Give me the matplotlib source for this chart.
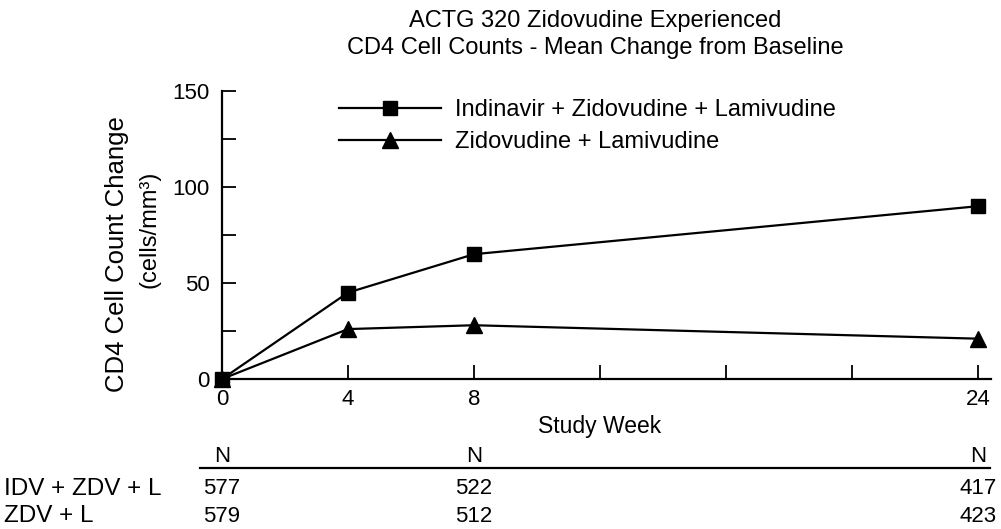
import matplotlib
matplotlib.use("Agg")
import matplotlib.pyplot as plt
from matplotlib.transforms import blended_transform_factory

plt.rcParams['font.family'] = ['Liberation Sans', 'DejaVu Sans']

weeks = ["0", "4", "8", "24"]
week_pos = [0, 1, 2, 6]
tick_pos = [0, 1, 2, 3, 4, 5, 6]
idv_zdv_l = [0, 45, 65, 90]
zdv_l = [0, 26, 28, 21]
series_names = ["Indinavir + Zidovudine + Lamivudine", "Zidovudine + Lamivudine"]
row_labels = ["IDV + ZDV + L", "ZDV + L"]
n_weeks_pos = [0, 2, 6]
n_idv = ["577", "522", "417"]
n_zdv = ["579", "512", "423"]

W, H = 1001, 529
fig = plt.figure(figsize=(W / 100, H / 100), dpi=100)
ax = fig.add_axes([222 / W, 1 - 379 / H, 768.6 / W, 288 / H])

ax.plot(week_pos, idv_zdv_l, color='black', lw=1.6, marker='s', markersize=10,
        label=series_names[0], clip_on=False, zorder=5)
ax.plot(week_pos, zdv_l, color='black', lw=1.6, marker='^', markersize=11,
        label=series_names[1], clip_on=False, zorder=5)

ax.set_xlim(0, 6.1)
ax.set_ylim(0, 150)
ax.spines['top'].set_visible(False)
ax.spines['right'].set_visible(False)
ax.spines['left'].set_linewidth(1.6)
ax.spines['bottom'].set_linewidth(1.6)

ax.set_xticks(tick_pos)
ax.set_xticklabels(["0", "4", "8", "", "", "", "24"])
ax.set_yticks([0, 50, 100, 150])
ax.set_yticks([25, 75, 125], minor=True)
ax.tick_params(axis='x', direction='in', length=10, width=1.3, labelsize=16, pad=7)
ax.tick_params(axis='y', which='both', direction='in', length=10, width=1.3, labelsize=16, pad=9)

fig.text(600 / W, 1 - 427 / H, "Study Week", ha='center', va='center', fontsize=16.5)
fig.text(117 / W, 1 - 254 / H, "CD4 Cell Count Change", rotation=90,
         ha='center', va='center', fontsize=18.5)
fig.text(150 / W, 1 - 229 / H, "(cells/mm\u00b3)", rotation=90,
         ha='center', va='center', fontsize=17)

fig.text(595 / W, 1 - 21 / H, "ACTG 320 Zidovudine Experienced", ha='center', va='center', fontsize=17)
fig.text(595 / W, 1 - 48 / H, "CD4 Cell Counts - Mean Change from Baseline", ha='center', va='center', fontsize=17)

ax.legend(loc='upper left', bbox_to_anchor=(0.14, 1.005), frameon=False, fontsize=17,
          handlelength=4.3, handletextpad=0.6, labelspacing=0.42, borderaxespad=0)

tr = blended_transform_factory(ax.transData, fig.transFigure)
for p in n_weeks_pos:
    fig.text(p, 1 - 457 / H, "N", transform=tr, ha='center', va='center', fontsize=16)
fig.add_artist(plt.Line2D([200 / W, 990 / W], [1 - 468 / H, 1 - 468 / H],
                          transform=fig.transFigure, color='black', lw=1.6))
for i, label in enumerate(row_labels):
    y = 1 - (489 + 27 * i) / H
    fig.text(4 / W, y, label, ha='left', va='center', fontsize=17.5)
    vals = n_idv if i == 0 else n_zdv
    for p, v in zip(n_weeks_pos, vals):
        fig.text(p, y, v, transform=tr, ha='center', va='center', fontsize=16)

fig.savefig("out.png", dpi=100)
